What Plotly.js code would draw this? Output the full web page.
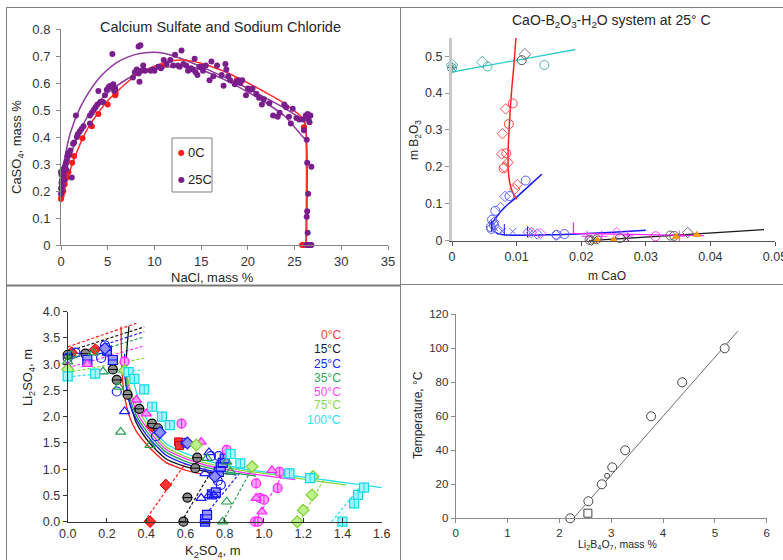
<!DOCTYPE html>
<html>
<head>
<meta charset="utf-8">
<script src="https://cdn.plot.ly/plotly-3.0.1.min.js"></script>
<style>
  html, body { margin: 0; padding: 0; background: #ffffff; }
  #chart { width: 783px; height: 560px; }
</style>
</head>
<body>
<div id="chart"></div>
<script>
// ---------- Panel 1: CaSO4 solubility in NaCl solutions (mass %) ----------
const NACL_0C = [[0.0,0.17],[0.05,0.18],[0.1,0.19],[0.25,0.20],[0.4,0.225],[0.6,0.25],[0.8,0.27],[1.2,0.305],[1.4,0.33],
  [2.3,0.395],[3.3,0.44],[4.0,0.485],[5.0,0.52],[5.8,0.555],[5.85,0.56],[10.8,0.66],[18.8,0.61],[26.0,0.436],[25.8,0],[26.0,0]];
const NACL_25C = [[0.0,0.19],[0.0,0.21],[0.05,0.23],[0.05,0.26],[0.1,0.27],[0.1,0.24],[0.15,0.22],[0.2,0.25],[0.2,0.28],
  [0.25,0.27],[0.3,0.26],[0.35,0.24],[0.0,0.27],[0.1,0.2],[0.4,0.29],[0.5,0.3],[0.55,0.28],[0.6,0.31],[0.7,0.33],[0.8,0.34],
  [0.9,0.335],[1.0,0.35],[1.15,0.25],[1.3,0.375],[1.4,0.38],[1.6,0.48],[1.7,0.4],[1.8,0.41],[2.0,0.42],[2.2,0.43],[2.4,0.44],
  [3.1,0.45],[3.1,0.48],[3.3,0.49],[3.5,0.5],[3.7,0.51],[3.9,0.52],[4.0,0.57],[4.2,0.53],[4.5,0.53],[4.7,0.555],[4.9,0.575],
  [5.1,0.585],[5.3,0.59],[5.5,0.585],[5.6,0.595],[5.5,0.707],[5.8,0.58],[5.7,0.57],
  [7.7,0.62],[7.9,0.64],[8.1,0.65],[8.3,0.635],[8.4,0.605],[8.6,0.645],[8.8,0.665],[9.0,0.645],[8.3,0.735],[8.5,0.74],
  [9.6,0.645],[9.8,0.65],[10.0,0.645],[10.4,0.66],[10.7,0.655],[11.0,0.685],[11.3,0.67],[11.7,0.685],[12.0,0.665],[12.2,0.705],
  [12.5,0.665],[12.7,0.66],[12.9,0.72],[13.1,0.67],[13.4,0.665],[13.6,0.645],[13.9,0.655],[14.1,0.65],[14.3,0.69],[14.4,0.64],
  [14.6,0.63],[14.8,0.66],[15.0,0.66],[15.2,0.645],[15.5,0.665],[15.9,0.61],[16.1,0.68],[16.3,0.625],[16.7,0.665],[17.2,0.63],
  [17.4,0.59],[17.6,0.67],[17.7,0.65],[17.9,0.625],[18.1,0.61],[18.6,0.595],[18.8,0.605],[19.0,0.61],[19.2,0.6],[19.4,0.61],
  [19.8,0.555],[20.0,0.58],[20.3,0.575],[20.5,0.58],[20.9,0.56],[21.2,0.545],[21.5,0.52],[21.7,0.54],[22.3,0.525],[22.7,0.48],
  [23.2,0.475],[23.4,0.49],[23.9,0.52],[24.1,0.51],[24.4,0.475],[24.6,0.45],[24.8,0.505],[25.2,0.47],[25.5,0.465],[25.9,0.465],
  [26.0,0.425],[26.2,0.48],[26.4,0.485],[26.5,0.465],[26.6,0.455],[26.7,0.48],[26.3,0.39],[26.35,0.305],[26.45,0.19],
  [26.35,0.125],[26.3,0.105],[26.4,0.045],[26.8,0.29],[26.3,0],[26.4,0],[26.5,0],[26.6,0],[26.7,0],[26.8,0]];
const NACL_0C_FIT = [[0,0.17],[0.5,0.22],[1,0.28],[2,0.37],[3,0.44],[4,0.49],[5,0.535],[6,0.568],[7,0.6],[8,0.627],[9,0.647],
  [10,0.662],[11,0.675],[12,0.683],[13,0.685],[14,0.681],[15,0.673],[16,0.662],[18,0.635],[20,0.6],[22,0.563],[24,0.523],
  [26.0,0.465],[26.2,0.44],[26.25,0]];
const NACL_25C_FIT_A = [[0.3,0.3],[0.5,0.34],[1,0.415],[2,0.505],[3,0.567],[4,0.615],[5,0.65],[6,0.676],[7,0.694],[8,0.706],
  [9,0.712],[10,0.714],[11,0.71],[12,0.701],[13,0.689],[14,0.675],[15,0.66],[16,0.645],[18,0.614],[20,0.58],[22,0.543],
  [24,0.505],[26.0,0.458],[26.2,0.44],[26.25,0]];
const NACL_25C_FIT_B = [[0.3,0.24],[0.5,0.27],[1,0.33],[2,0.42],[3,0.485],[4,0.53],[5,0.563],[6,0.59],[7,0.613],[8,0.632],
  [9,0.645],[10,0.652],[11,0.658],[12,0.662],[13,0.663],[14,0.658],[15,0.648],[16,0.635],[18,0.604],[20,0.566],[22,0.525],
  [24,0.475],[25.9,0.40],[26.2,0.39],[26.25,0]];

// ---------- Panel 2: CaO-B2O3-H2O at 25 C (molality) ----------
const CAO_TEAL_CIRCLE = [[0,0.468],[0.0055,0.472],[0.0143,0.476]];
const CAO_TEAL_DIAMOND = [[0,0.476],[0.0047,0.484]];
const CAO_TEAL_STAR = [[0,0.470]];
const CAO_TEAL_FIT = [[0,0.457],[0.0191,0.518]];
const CAO_GRAY_TOP_CIRCLE = [[0.0108,0.489]];
const CAO_GRAY_TOP_DIAMOND = [[0.0113,0.505]];
const CAO_RED_CIRCLE = [[0.0094,0.372],[0.0088,0.316],[0.0084,0.237],[0.0080,0.196]];
const CAO_RED_DIAMOND = [[0.0083,0.357],[0.0078,0.29],[0.0077,0.235],[0.0087,0.212],[0.0081,0.20],[0.0097,0.14],[0.0101,0.152]];
const CAO_RED_FIT = [[0.0099,0.55],[0.0096,0.48],[0.0092,0.40],[0.0089,0.32],[0.0087,0.25],[0.0087,0.20],[0.0089,0.16],
  [0.0093,0.135],[0.0100,0.112]];
const CAO_BLUE_CIRCLE = [[0.0114,0.163],[0.0089,0.121],[0.0067,0.081],[0.0062,0.057],[0.0060,0.037],[0.0065,0.042],
  [0.0061,0.032],[0.0162,0.016],[0.0174,0.018]];
const CAO_BLUE_DIAMOND = [[0.0082,0.12],[0.0075,0.09],[0.0065,0.05],[0.0071,0.03],[0.0118,0.023],[0.0132,0.018],[0.0161,0.015]];
const CAO_BLUE_X = [[0.0078,0.025],[0.0094,0.025],[0.0121,0.022],[0.0066,0.035]];
const CAO_BLUE_BAR = [[0.0081,0.03],[0.0117,0.024],[0.0061,0.04]];
const CAO_BLUE_FIT_A = [[0.0061,0.045],[0.0068,0.062],[0.0080,0.088],[0.0100,0.118],[0.0120,0.15],[0.0139,0.18]];
const CAO_BLUE_FIT_B = [[0.0061,0.045],[0.0063,0.03],[0.0070,0.02],[0.0080,0.016],[0.0100,0.015],[0.0150,0.016],
  [0.0200,0.019],[0.0250,0.023],[0.0300,0.028]];
const CAO_MAG_CIRCLE = [[0.0315,0.012]];
const CAO_MAG_DIAMOND = [[0.0255,0.022],[0.0123,0.022],[0.0137,0.020]];
const CAO_MAG_X = [[0.0209,0.012],[0.0232,0.012],[0.0272,0.013],[0.0352,0.012]];
const CAO_MAG_FIT = [[0.0188,0.049],[0.0188,0.020],[0.0390,0.0135]];
const CAO_GRAY_CIRCLE = [[0.0213,0.002],[0.0224,0.004],[0.0260,0.007],[0.0338,0.014],[0.0344,0.013]];
const CAO_GRAY_DIAMOND = [[0.0365,0.022],[0.0216,0.001]];
const CAO_GRAY_X = [[0.0270,0.006],[0.0219,0.003]];
const CAO_BLACK_FIT = [[0.0212,0.0],[0.0483,0.030]];
const CAO_ORANGE = [[0.0225,0.001],[0.0250,0.002],[0.0347,0.011],[0.0379,0.016]];

// ---------- Panel 3: Li2SO4-K2SO4-H2O (molality), 0-100 C ----------
const TEMP_LABELS = ['0°C','15°C','25°C','35°C','50°C','75°C','100°C'];
const LI_T0_DIAMOND = [[0.42,0],[0.50,0.70],[0.02,3.22],[0.14,3.28],[0.43,1.82]];
const LI_T0_SQUARE = [[0.565,1.52],[0.57,1.45]];
const LI_T15_CIRCLE = [[0.59,0],[0.61,0.46],[0.65,1.02],[0.66,1.22],[0.43,1.87],[0.46,1.78],[0.365,2.15],[0.305,2.42],
  [0.25,2.70],[0.23,2.90],[0.09,3.20],[0.0,3.18]];
const LI_T25_SQUARE = [[0.70,0],[0.70,0.05],[0.71,0.13],[0.735,0.52],[0.755,0.56],[0.77,0.95],[0.78,1.05],[0.79,1.12],
  [0.80,1.20],[0.10,3.08],[0.23,3.08],[0.20,3.26]];
const LI_T25_TRIANGLE = [[0.68,0.45],[0.72,0.50],[0.745,0.50],[0.70,0.92],[0.29,2.10],[0.72,1.32]];
const LI_T25_CIRCLE = [[0.25,2.48],[0.45,1.63],[0.60,1.50],[0.77,1.25],[0.73,1.25],[0.78,0.70],[0.765,0.78],[0.17,3.12],
  [0.04,3.22],[0.0,3.12],[0.19,3.36]];
const LI_T25_DIAMOND = [[0.47,1.70],[0.61,1.50],[0.75,0.86],[0.19,3.30]];
const LI_T35_TRIANGLE = [[0.0,3.05],[0.02,3.18],[0.13,3.22],[0.18,2.86],[0.26,2.57],[0.27,1.71],[0.42,1.46],[0.79,0],
  [0.81,0.38],[0.83,0.95],[0.81,1.14],[0.71,1.21]];
const LI_T50_CIRCLE = [[0.29,3.05],[0.58,1.87],[0.81,1.37],[0.96,0.73],[1.07,0.64],[1.08,0.95],[0.98,0.45],[1.0,0.42],
  [0.955,0],[0.97,0]];
const LI_T50_TRIANGLE = [[0.0,2.95],[0.10,3.0],[0.35,2.32],[0.40,2.06],[0.68,1.52],[1.04,0.98],[0.99,0.19],[0.96,0.45]];
const LI_T75_DIAMOND = [[0.0,2.90],[0.29,2.88],[0.655,1.46],[0.94,1.05],[1.17,0],[1.20,0.22],[1.245,0.51],[1.25,0.86]];
const LI_T100_SQUARE = [[0.0,2.77],[0.14,2.82],[0.31,2.85],[0.34,2.72],[0.39,2.52],[0.43,2.19],[0.48,2.0],[0.52,1.84],
  [0.83,1.29],[0.88,1.11],[1.13,0.92],[1.235,0.83],[1.40,0],[1.46,0.35],[1.48,0.51],[1.51,0.65]];

const LI_CURVES = [
  [[0.272,3.72],[0.274,3.2],[0.278,2.8],[0.285,2.5],[0.30,2.2],[0.32,1.95],[0.35,1.72],[0.40,1.48],[0.45,1.29],[0.50,1.13],
   [0.55,1.05],[0.60,0.98],[0.68,0.91]],
  [[0.312,3.72],[0.302,3.3],[0.296,2.9],[0.298,2.6],[0.31,2.35],[0.33,2.1],[0.35,1.88],[0.40,1.58],[0.45,1.37],[0.50,1.2],
   [0.60,1.05],[0.70,0.96],[0.78,0.91]],
  [[0.29,3.2],[0.29,2.8],[0.30,2.55],[0.32,2.2],[0.35,1.95],[0.40,1.66],[0.45,1.45],[0.50,1.27],[0.60,1.1],[0.70,0.99],
   [0.80,0.92],[0.86,0.89]],
  [[0.295,3.1],[0.296,2.8],[0.305,2.55],[0.325,2.25],[0.35,2.02],[0.40,1.73],[0.45,1.51],[0.50,1.33],[0.60,1.15],[0.70,1.04],
   [0.80,0.96],[0.90,0.9],[0.96,0.87]],
  [[0.30,2.95],[0.305,2.7],[0.32,2.45],[0.35,2.1],[0.40,1.8],[0.45,1.57],[0.50,1.38],[0.60,1.2],[0.70,1.08],[0.80,1.0],
   [0.90,0.93],[1.0,0.88],[1.1,0.83],[1.16,0.8]],
  [[0.30,2.9],[0.31,2.65],[0.33,2.4],[0.36,2.15],[0.40,1.87],[0.45,1.63],[0.50,1.43],[0.60,1.24],[0.70,1.12],[0.80,1.04],
   [0.90,0.97],[1.0,0.92],[1.1,0.87],[1.2,0.81],[1.3,0.76],[1.42,0.7]],
  [[0.33,2.8],[0.34,2.6],[0.36,2.35],[0.40,1.97],[0.45,1.7],[0.50,1.49],[0.60,1.3],[0.70,1.17],[0.80,1.08],[0.90,1.0],
   [1.0,0.95],[1.1,0.9],[1.2,0.85],[1.3,0.8],[1.4,0.75],[1.5,0.7],[1.6,0.65]]
];
const LI_DASH_UPPER = [
  [[0,3.33],[0.35,3.78]], [[0,3.24],[0.39,3.71]], [[0,3.14],[0.39,3.62]], [[0,3.08],[0.39,3.52]],
  [[0,2.93],[0.39,3.35]], [[0,2.84],[0.40,3.12]], [[0,2.76],[0.385,2.89]]
];
const LI_DASH_LOWER = [
  [[0.39,0],[0.60,1.11]], [[0.58,0],[0.73,0.95]], [[0.673,0],[0.877,0.93]], [[0.79,0],[0.945,1.05]],
  [[0.955,0],[1.09,0.86]], [[1.18,0],[1.31,0.83]], [[1.345,0],[1.505,0.73]]
];

// ---------- Panel 4: Li2B4O7 solubility vs temperature ----------
const LB_MASS = [2.21,2.56,2.82,3.02,3.27,3.77,4.37,5.19];
const LB_TEMP = [0,10,20,30,40,60,80,100];
const LB_SMALL_MASS = [2.92];
const LB_SMALL_TEMP = [25];
const LB_SQUARE_MASS = [2.55];
const LB_SQUARE_TEMP = [3];
const LB_FIT_MASS = [2.27,5.44];
const LB_FIT_TEMP = [0,110];

// ---------- helpers ----------
const W = 783, H = 560;
const fx = v => v / W;
const fy = v => 1 - v / H;
const X = a => a.map(p => p[0]);
const Y = a => a.map(p => p[1]);
const traces = [];

function addPoints(data, ax, marker, name) {
  traces.push({type: 'scatter', mode: 'markers', x: X(data), y: Y(data), xaxis: 'x' + ax, yaxis: 'y' + ax,
    marker: marker, cliponaxis: false, showlegend: false, hoverinfo: 'skip', name: name || ''});
}
function addLine(data, ax, line, name) {
  traces.push({type: 'scatter', mode: 'lines', x: X(data), y: Y(data), xaxis: 'x' + ax, yaxis: 'y' + ax,
    line: line, showlegend: false, hoverinfo: 'skip', name: name || ''});
}

// Panel 1 traces
const RED = '#FF1A1A', PURPLE = '#7A1E8C', PURPLE_LINE = '#8E3A9E';
addLine(NACL_25C_FIT_B, '', {color: PURPLE_LINE, width: 1.5, shape: 'spline', smoothing: 0.6});
addLine(NACL_25C_FIT_A, '', {color: PURPLE_LINE, width: 1.5, shape: 'spline', smoothing: 0.6});
addLine(NACL_0C_FIT, '', {color: '#FF3030', width: 1.5, shape: 'spline', smoothing: 0.6});
addPoints(NACL_0C, '', {color: RED, size: 6}, '0C');
addPoints(NACL_25C, '', {color: PURPLE, size: 6}, '25C');

// Panel 2 traces
const TEAL = '#4DB3AC', OPEN = w => ({width: w || 1});
addLine(CAO_TEAL_FIT, '2', {color: '#33CCCC', width: 1.3});
addLine(CAO_BLUE_FIT_A, '2', {color: '#1414FF', width: 1.5, shape: 'spline'});
addLine(CAO_BLUE_FIT_B, '2', {color: '#1414FF', width: 1.5, shape: 'spline'});
addLine(CAO_RED_FIT, '2', {color: '#FF2020', width: 1.5, shape: 'spline'});
addLine(CAO_BLACK_FIT, '2', {color: '#1A1A1A', width: 1.3});
addLine(CAO_MAG_FIT, '2', {color: '#FF22FF', width: 1.3});
addPoints(CAO_TEAL_CIRCLE, '2', {symbol: 'circle-open', size: 9, color: TEAL, line: OPEN()});
addPoints(CAO_TEAL_DIAMOND, '2', {symbol: 'diamond-open', size: 9, color: TEAL, line: OPEN()});
addPoints(CAO_TEAL_STAR, '2', {symbol: 'asterisk-open', size: 8, color: '#2E7F7A', line: OPEN()});
addPoints(CAO_GRAY_TOP_CIRCLE, '2', {symbol: 'circle-open', size: 9, color: '#555555', line: OPEN()});
addPoints(CAO_GRAY_TOP_DIAMOND, '2', {symbol: 'diamond-open', size: 9, color: '#777777', line: OPEN()});
addPoints(CAO_RED_CIRCLE, '2', {symbol: 'circle-open', size: 9, color: '#FF4040', line: OPEN()});
addPoints(CAO_RED_DIAMOND, '2', {symbol: 'diamond-open', size: 8, color: '#FF5050', line: OPEN()});
addPoints(CAO_BLUE_CIRCLE, '2', {symbol: 'circle-open', size: 9, color: '#5A5AFF', line: OPEN()});
addPoints(CAO_BLUE_DIAMOND, '2', {symbol: 'diamond-open', size: 8, color: '#6A6AFF', line: OPEN()});
addPoints(CAO_BLUE_X, '2', {symbol: 'x-thin-open', size: 7, color: '#6A6AFF', line: OPEN()});
addPoints(CAO_BLUE_BAR, '2', {symbol: 'line-ns-open', size: 8, color: '#2020FF', line: OPEN()});
addPoints(CAO_MAG_CIRCLE, '2', {symbol: 'circle-open', size: 9, color: '#FF33FF', line: OPEN()});
addPoints(CAO_MAG_DIAMOND, '2', {symbol: 'diamond-open', size: 8, color: '#FF55FF', line: OPEN()});
addPoints(CAO_MAG_X, '2', {symbol: 'cross-thin-open', size: 8, color: '#FF33FF', line: OPEN()});
addPoints(CAO_GRAY_CIRCLE, '2', {symbol: 'circle-open', size: 9, color: '#666666', line: OPEN()});
addPoints(CAO_GRAY_DIAMOND, '2', {symbol: 'diamond-open', size: 8, color: '#666666', line: OPEN()});
addPoints(CAO_GRAY_X, '2', {symbol: 'x-thin-open', size: 7, color: '#444444', line: OPEN()});
addPoints(CAO_ORANGE, '2', {symbol: 'triangle-up', size: 8, color: '#FF9900'});

// Panel 3 traces
const T_COLORS = ['#FF1A1A', '#111111', '#1A1AFF', '#23A04F', '#FF33FF', '#86D83A', '#1EE0EC'];
const T_LABEL_COLORS = ['#FF3B3B', '#1A1A1A', '#2424FF', '#2FA85A', '#FF4AFF', '#8ED850', '#2BE3EE'];
LI_DASH_UPPER.forEach((d, i) => addLine(d, '3', {color: T_COLORS[i], width: 1.2, dash: '3px,2px'}));
LI_DASH_LOWER.forEach((d, i) => addLine(d, '3', {color: T_COLORS[i], width: 1.2, dash: '3px,2px'}));
LI_CURVES.forEach((d, i) => addLine(d, '3', {color: T_COLORS[i], width: 1.3, shape: 'spline', smoothing: 0.7}));

function addMarked(data, base, bar) {
  addPoints(data, '3', base);
  if (bar) addPoints(data, '3', {symbol: bar, size: base.size - 2, color: base.line.color, line: {width: 1, color: base.line.color}});
}
addMarked(LI_T0_DIAMOND, {symbol: 'diamond', size: 9, color: '#FF3030', line: {color: '#E00000', width: 1}});
addMarked(LI_T0_SQUARE, {symbol: 'square', size: 8, color: '#FF3030', line: {color: '#E00000', width: 1}});
addMarked(LI_T15_CIRCLE, {symbol: 'circle', size: 9, color: '#8C8C8C', line: {color: '#000000', width: 1.2}}, 'line-ew-open');
addMarked(LI_T25_SQUARE, {symbol: 'square', size: 9, color: '#9A9AFF', line: {color: '#1010FF', width: 1.2}}, 'line-ew-open');
addMarked(LI_T25_TRIANGLE, {symbol: 'triangle-up-open', size: 9, color: '#1A1AFF', line: {color: '#1A1AFF', width: 1.2}});
addMarked(LI_T25_CIRCLE, {symbol: 'circle-open', size: 9, color: '#1A1AFF', line: {color: '#1A1AFF', width: 1.2}});
addMarked(LI_T25_DIAMOND, {symbol: 'diamond', size: 9, color: '#8F8FFF', line: {color: '#1A1AFF', width: 1.2}});
addMarked(LI_T35_TRIANGLE, {symbol: 'triangle-up-open', size: 9, color: '#23A04F', line: {color: '#23A04F', width: 1.2}});
addMarked(LI_T50_CIRCLE, {symbol: 'circle', size: 9, color: '#FFA6FF', line: {color: '#FF22FF', width: 1.2}}, 'line-ns-open');
addMarked(LI_T50_TRIANGLE, {symbol: 'triangle-up', size: 9, color: '#FF9AFF', line: {color: '#FF22FF', width: 1.2}});
addMarked(LI_T75_DIAMOND, {symbol: 'diamond', size: 9, color: '#BDF08A', line: {color: '#80D030', width: 1.2}});
addMarked(LI_T100_SQUARE, {symbol: 'square', size: 9, color: '#A8F4FA', line: {color: '#10D8E8', width: 1.2}}, 'line-ns-open');

// Panel 4 traces
traces.push({type: 'scatter', mode: 'lines', x: LB_FIT_MASS, y: LB_FIT_TEMP, xaxis: 'x4', yaxis: 'y4',
  line: {color: '#6E6E6E', width: 1}, showlegend: false, hoverinfo: 'skip'});
traces.push({type: 'scatter', mode: 'markers', x: LB_MASS, y: LB_TEMP, xaxis: 'x4', yaxis: 'y4', cliponaxis: false,
  marker: {symbol: 'circle', size: 9, color: '#FFFFFF', line: {color: '#444444', width: 1}}, showlegend: false, hoverinfo: 'skip'});
traces.push({type: 'scatter', mode: 'markers', x: LB_SMALL_MASS, y: LB_SMALL_TEMP, xaxis: 'x4', yaxis: 'y4', cliponaxis: false,
  marker: {symbol: 'circle', size: 5, color: '#FFFFFF', line: {color: '#444444', width: 1}}, showlegend: false, hoverinfo: 'skip'});
traces.push({type: 'scatter', mode: 'markers', x: LB_SQUARE_MASS, y: LB_SQUARE_TEMP, xaxis: 'x4', yaxis: 'y4', cliponaxis: false,
  marker: {symbol: 'square', size: 8, color: '#FFFFFF', line: {color: '#444444', width: 1}}, showlegend: false, hoverinfo: 'skip'});

// ---------- axes ----------
const FONT = 'Liberation Sans, Arial, sans-serif';
function axis(dom, range, dtick, anchor, opts) {
  return Object.assign({domain: dom, range: range, dtick: dtick, tick0: 0, anchor: anchor, showgrid: false, zeroline: false,
    showline: true, linecolor: '#868686', linewidth: 1, ticks: 'outside', ticklen: 4, tickcolor: '#868686',
    tickfont: {family: FONT, size: 13, color: '#333333'}, ticklabeloverflow: 'allow', fixedrange: true}, opts || {});
}

const ann = [];
function text(t, x, y, size, opts) {
  ann.push(Object.assign({text: t, x: fx(x), y: fy(y), xref: 'paper', yref: 'paper', showarrow: false,
    xanchor: 'center', yanchor: 'middle', font: {family: FONT, size: size, color: '#262626'}}, opts || {}));
}
// panel titles and axis titles
text('Calcium Sulfate and Sodium Chloride', 220, 27, 14.5);
text('NaCl, mass %', 212, 277, 13);
text('CaSO<sub>4</sub>, mass %', 18, 147, 13, {textangle: -90});
text('CaO-B<sub>2</sub>O<sub>3</sub>-H<sub>2</sub>O system at 25° C', 611, 21, 14);
text('m CaO', 607, 276, 12);
text('m B<sub>2</sub>O<sub>3</sub>', 415, 140, 12, {textangle: -90});
text('K<sub>2</sub>SO<sub>4</sub>, m', 213, 551, 13);
text('Li<sub>2</sub>SO<sub>4</sub>, m', 28, 378, 13, {textangle: -90});
text('Temperature, °C', 418, 415, 12, {textangle: -90});
text('Li<sub>2</sub>B<sub>4</sub>O<sub>7</sub>, mass %', 617, 545, 10.5);
// legend of panel 1
text('●', 181, 153, 8, {font: {family: 'DejaVu Sans', size: 8, color: RED}});
text('0C', 186, 153, 13, {xanchor: 'left'});
text('●', 181, 180, 8, {font: {family: 'DejaVu Sans', size: 8, color: PURPLE}});
text('25C', 186, 180, 13, {xanchor: 'left'});
// temperature key of panel 3
const T_LABEL_Y = [335, 349, 364, 378, 392, 405, 420];
TEMP_LABELS.forEach((t, i) => text(t, 343, T_LABEL_Y[i], 12, {xanchor: 'right', font: {family: FONT, size: 12, color: T_LABEL_COLORS[i]}}));

const shapes = [
  {type: 'line', xref: 'paper', yref: 'paper', x0: fx(6), x1: 1, y0: fy(7.5), y1: fy(7.5), line: {color: '#808080', width: 1}},
  {type: 'line', xref: 'paper', yref: 'paper', x0: fx(6.5), x1: fx(6.5), y0: fy(7), y1: 0, line: {color: '#808080', width: 1}},
  {type: 'line', xref: 'paper', yref: 'paper', x0: fx(400.5), x1: fx(400.5), y0: fy(7), y1: 0, line: {color: '#808080', width: 1}},
  {type: 'line', xref: 'paper', yref: 'paper', x0: fx(6), x1: fx(400), y0: fy(285.5), y1: fy(285.5), line: {color: '#7a7a7a', width: 2}},
  {type: 'line', xref: 'paper', yref: 'paper', x0: fx(400), x1: 1, y0: fy(284.5), y1: fy(284.5), line: {color: '#808080', width: 1}},
  {type: 'rect', xref: 'paper', yref: 'paper', x0: fx(172), x1: fx(212), y0: fy(192), y1: fy(138),
   line: {color: '#7f7f7f', width: 1}, fillcolor: 'rgba(255,255,255,0)'}
];

const layout = {
  width: W, height: H,
  margin: {l: 0, r: 0, t: 0, b: 0},
  paper_bgcolor: '#ffffff', plot_bgcolor: 'rgba(0,0,0,0)',
  font: {family: FONT, color: '#333333'},
  showlegend: false,
  xaxis: axis([fx(61), fx(388)], [0, 35], 5, 'y'),
  yaxis: axis([fy(245), fy(29)], [0, 0.8], 0.1, 'x', {ticklabelstandoff: 3}),
  xaxis2: axis([fx(452), fx(775)], [0, 0.05], 0.01, 'y2',
    {linecolor: '#555555', tickcolor: '#555555', tickmode: 'array', tickvals: [0, 0.01, 0.02, 0.03, 0.04, 0.05],
     ticktext: ['0', '0.01', '0.02', '0.03', '0.04', '0.05'], tickfont: {family: FONT, size: 12.5, color: '#333333'}}),
  yaxis2: axis([fy(240.7), fy(37.7)], [0, 0.55], 0.1, 'x2',
    {linecolor: '#C8C8C8', linewidth: 3, tickcolor: '#999999', tickfont: {family: FONT, size: 12.5, color: '#333333'}}),
  xaxis3: axis([fx(67.7), fx(381.7)], [0, 1.6], 0.2, 'y3',
    {tickformat: '.1f', ticks: 'inside', linecolor: '#333333', tickcolor: '#333333', tickfont: {family: FONT, size: 12.5, color: '#333333'}}),
  yaxis3: axis([fy(521.7), fy(311.7)], [0, 4], 0.5, 'x3',
    {tickformat: '.1f', linecolor: '#333333', tickcolor: '#333333', tickfont: {family: FONT, size: 12.5, color: '#333333'}}),
  xaxis4: axis([fx(455.7), fx(766.7)], [0, 6], 1, 'y4',
    {linecolor: '#8a8a8a', tickcolor: '#8a8a8a', tickfont: {family: FONT, size: 11.5, color: '#333333'}}),
  yaxis4: axis([fy(518.3), fy(314.3)], [0, 120], 20, 'x4',
    {linecolor: '#8a8a8a', tickcolor: '#8a8a8a', tickfont: {family: FONT, size: 11.5, color: '#333333'}}),
  annotations: ann,
  shapes: shapes
};

Plotly.newPlot('chart', traces, layout, {displayModeBar: false, staticPlot: true});
</script>
</body>
</html>
